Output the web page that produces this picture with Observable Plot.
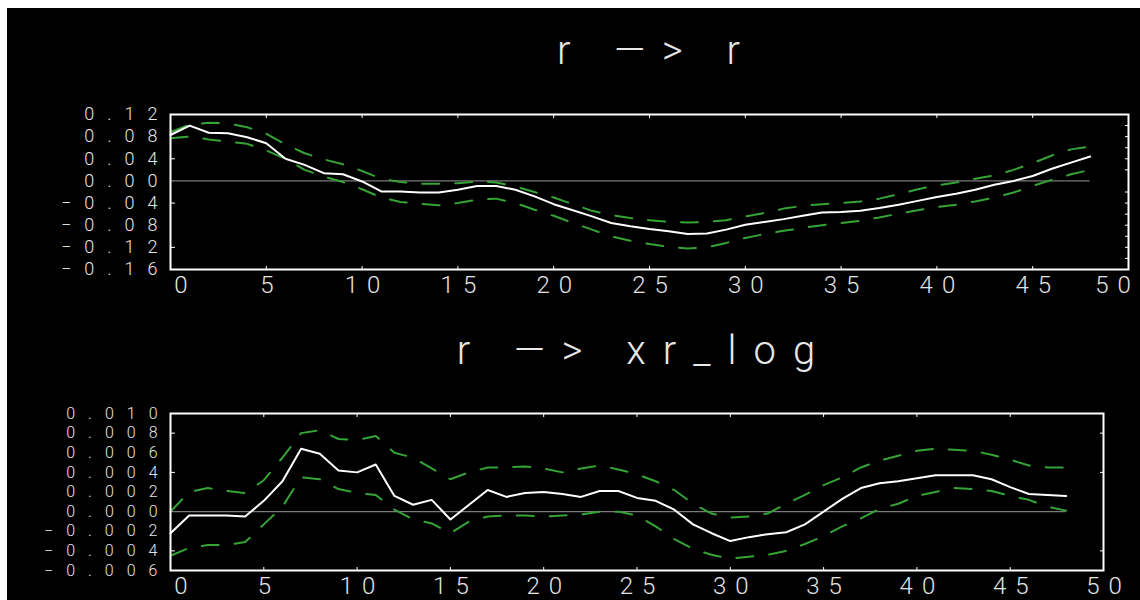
<!DOCTYPE html>
<html>
<head>
<meta charset="utf-8">
<script src="https://cdn.jsdelivr.net/npm/d3@7"></script>
<script src="https://cdn.jsdelivr.net/npm/@observablehq/plot@0.6"></script>
<style>
  html, body { margin: 0; padding: 0; background: #ffffff; }
  #board { position: absolute; left: 7px; top: 8px; width: 1133px; height: 592px; background: #000; overflow: hidden; }
  .title { position: absolute; left: 0; color: #e8e8e8; font-family: Roboto, "DejaVu Sans", sans-serif;
           font-weight: 300; font-size: 40px; letter-spacing: 17px; white-space: pre; line-height: 1; }
  .panel { position: absolute; left: 0; }
</style>
</head>
<body>
<div id="board">
  <div class="title" id="t1"></div>
  <div class="panel" id="p1"></div>
  <div class="title" id="t2"></div>
  <div class="panel" id="p2"></div>
</div>
<script>
// Lags shown along the horizontal axis
const lags = [0,1,2,3,4,5,6,7,8,9,10,11,12,13,14,15,16,17,18,19,20,21,22,23,24,
              25,26,27,28,29,30,31,32,33,34,35,36,37,38,39,40,41,42,43,44,45,46,47,48];

// Response of r to a shock in r: estimate and error band
const rrResponse = [0.083,0.100,0.087,0.086,0.079,0.068,0.040,0.029,0.014,0.012,-0.001,-0.019,-0.019,
  -0.021,-0.021,-0.016,-0.009,-0.009,-0.016,-0.028,-0.042,-0.053,-0.064,-0.076,-0.082,-0.087,-0.091,
  -0.096,-0.095,-0.088,-0.079,-0.074,-0.069,-0.063,-0.057,-0.056,-0.054,-0.049,-0.043,-0.036,-0.029,
  -0.023,-0.016,-0.007,0.000,0.009,0.022,0.033,0.044];
const rrUpper = [0.088,0.102,0.105,0.104,0.097,0.085,0.066,0.050,0.039,0.030,0.018,0.004,-0.002,
  -0.005,-0.005,-0.004,-0.001,-0.003,-0.010,-0.020,-0.030,-0.042,-0.054,-0.062,-0.067,-0.071,-0.074,
  -0.075,-0.074,-0.071,-0.064,-0.058,-0.050,-0.045,-0.042,-0.040,-0.037,-0.032,-0.024,-0.015,-0.008,
  -0.003,0.004,0.010,0.020,0.032,0.046,0.057,0.062];
const rrLower = [0.077,0.080,0.075,0.071,0.067,0.055,0.040,0.020,0.008,-0.002,-0.015,-0.030,-0.038,
  -0.041,-0.044,-0.040,-0.034,-0.032,-0.040,-0.052,-0.063,-0.076,-0.088,-0.100,-0.108,-0.114,-0.119,
  -0.122,-0.120,-0.112,-0.103,-0.096,-0.090,-0.085,-0.080,-0.076,-0.072,-0.066,-0.059,-0.053,-0.047,
  -0.043,-0.037,-0.030,-0.021,-0.009,0.002,0.012,0.020];

// Response of xr_log to a shock in r: estimate and error band
const rxResponse = [-0.0022,-0.0004,-0.0004,-0.0004,-0.0005,0.0011,0.0031,0.0064,0.0059,0.0042,0.0040,
  0.0048,0.0016,0.0007,0.0012,-0.0008,0.0007,0.0022,0.0015,0.0019,0.0020,0.0018,0.0015,0.0021,0.0021,
  0.0014,0.0011,0.0002,-0.0013,-0.0022,-0.0030,-0.0026,-0.0023,-0.0021,-0.0013,0.0000,0.0013,0.0024,
  0.0029,0.0031,0.0034,0.0037,0.0037,0.0037,0.0033,0.0025,0.0018,0.0017,0.0016];
const rxUpper = [0.0000,0.0020,0.0024,0.0021,0.0019,0.0032,0.0055,0.0080,0.0083,0.0074,0.0073,0.0077,
  0.0060,0.0055,0.0044,0.0033,0.0040,0.0045,0.0045,0.0046,0.0044,0.0040,0.0044,0.0047,0.0043,0.0038,
  0.0031,0.0022,0.0008,-0.0002,-0.0006,-0.0005,-0.0002,0.0008,0.0017,0.0027,0.0035,0.0045,0.0052,
  0.0057,0.0062,0.0064,0.0063,0.0062,0.0058,0.0053,0.0047,0.0045,0.0045];
const rxLower = [-0.0045,-0.0037,-0.0034,-0.0034,-0.0031,-0.0013,0.0005,0.0035,0.0033,0.0023,0.0019,
  0.0017,0.0002,-0.0008,-0.0012,-0.0022,-0.0010,-0.0005,-0.0004,-0.0004,-0.0005,-0.0004,-0.0003,
  0.0000,0.0000,-0.0004,-0.0015,-0.0028,-0.0038,-0.0044,-0.0048,-0.0046,-0.0044,-0.0040,-0.0033,
  -0.0025,-0.0015,-0.0007,0.0003,0.0008,0.0016,0.0020,0.0024,0.0023,0.0021,0.0016,0.0012,0.0005,0.0001];

// Axis labels and tick positions
const xTicks = [0,5,10,15,20,25,30,35,40,45,50];
const topYLabels = [0.12,0.08,0.04,0,-0.04,-0.08,-0.12,-0.16];
const topYTicksLeft = [0.04,-0.04,-0.12];
const topYTicksRight = [0.10,0.08,0.06,0.04,0.02,-0.02,-0.04,-0.06,-0.08,-0.10,-0.12,-0.14];
const botYLabels = [0.010,0.008,0.006,0.004,0.002,0,-0.002,-0.004,-0.006];
const botYTicks = [0.008,0.004,-0.004];
const titles = ["r —> r", "r —> xr_log"];

const ink = "#e4e4e4";
const bandColor = "#35a335";
const fontStack = "Roboto, 'DejaVu Sans', sans-serif";

function fmt(digits) {
  return d => (d < 0 ? "−" : "") + Math.abs(d).toFixed(digits);
}

function panel({mid, upper, lower, yDomain, yLabels, ticksLeft, ticksRight, digits, labelSize,
                lastLabelShift, height, marginTop, marginBottom, marginRight}) {
  const rows = lags.map((lag, i) => ({lag, mid: mid[i], upper: upper[i], lower: lower[i]}));
  const svg = Plot.plot({
    width: 1133,
    height,
    marginTop,
    marginBottom,
    marginLeft: 163,
    marginRight,
    x: {domain: [xTicks[0], xTicks[xTicks.length - 1]]},
    y: {domain: yDomain},
    style: `background: #000; color: ${ink}; font-family: ${fontStack}; font-weight: 300; font-size: 24px; letter-spacing: 9px;`,
    marks: [
      Plot.ruleY([0], {x1: lags[0], x2: lags[lags.length - 1], stroke: "#7a7a7a", strokeWidth: 1.2}),
      Plot.lineY(rows, {x: "lag", y: "upper", stroke: bandColor, strokeWidth: 2, strokeDasharray: "17,16"}),
      Plot.lineY(rows, {x: "lag", y: "lower", stroke: bandColor, strokeWidth: 2, strokeDasharray: "17,16"}),
      Plot.lineY(rows, {x: "lag", y: "mid", stroke: "#ffffff", strokeWidth: 2}),
      Plot.frame({stroke: "#ffffff", strokeWidth: 2}),
      // inward tick marks on all four sides
      Plot.axisY({anchor: "left", ticks: ticksLeft, tickSize: -5, tickFormat: () => "", label: null, stroke: "#ffffff"}),
      Plot.axisY({anchor: "right", ticks: ticksRight, tickSize: -4, tickFormat: () => "", label: null, stroke: "#ffffff"}),
      Plot.axisX({anchor: "top", ticks: xTicks.slice(1, -1), tickSize: -3, tickFormat: () => "", label: null, stroke: "#ffffff"}),
      Plot.axisX({anchor: "bottom", ticks: xTicks.slice(1, -1), tickSize: -3, tickFormat: () => "", label: null, stroke: "#ffffff"}),
      // value labels
      Plot.axisY({anchor: "left", ticks: yLabels, tickSize: 0, tickPadding: 0, fontSize: labelSize,
                  tickFormat: fmt(digits), label: null, fill: ink}),
      Plot.axisX({anchor: "bottom", ticks: xTicks.slice(1, -1), tickSize: 0, tickPadding: 6, dx: 5, label: null, fill: ink}),
      Plot.axisX({anchor: "bottom", ticks: xTicks.slice(0, 1), tickSize: 0, tickPadding: 6, dx: 15, label: null, fill: ink}),
      Plot.axisX({anchor: "bottom", ticks: xTicks.slice(-1), tickSize: 0, tickPadding: 6, dx: 5 + lastLabelShift, label: null, fill: ink})
    ]
  });
  // wider character pitch for the stacked value labels
  d3.select(svg).selectAll('g[aria-label="y-axis tick label"]').attr("letter-spacing", "13px");
  return svg;
}

const topPanel = panel({mid: rrResponse, upper: rrUpper, lower: rrLower, yDomain: [-0.16, 0.12],
  yLabels: topYLabels, ticksLeft: topYTicksLeft, ticksRight: topYTicksRight, digits: 2, labelSize: 18,
  lastLabelShift: -16, height: 220, marginTop: 34, marginBottom: 31, marginRight: 12});
const bottomPanel = panel({mid: rxResponse, upper: rxUpper, lower: rxLower, yDomain: [-0.006, 0.010],
  yLabels: botYLabels, ticksLeft: botYTicks, ticksRight: botYTicks, digits: 3, labelSize: 16,
  lastLabelShift: 0, height: 215, marginTop: 28, marginBottom: 30, marginRight: 37});

const p1 = document.getElementById("p1");
p1.style.top = "72px";
p1.appendChild(topPanel);
const p2 = document.getElementById("p2");
p2.style.top = "377px";
p2.appendChild(bottomPanel);

// Panel titles centred over each frame
function placeTitle(id, text, centerX, topY) {
  const el = document.getElementById(id);
  el.textContent = text;
  el.style.top = topY + "px";
  const w = el.getBoundingClientRect().width;
  el.style.left = (centerX - w / 2 + 8) + "px";
}
placeTitle("t1", titles[0], 163 + (1133 - 163 - 12) / 2, 23);
placeTitle("t2", titles[1], 163 + (1133 - 163 - 37) / 2, 323);
</script>
</body>
</html>
